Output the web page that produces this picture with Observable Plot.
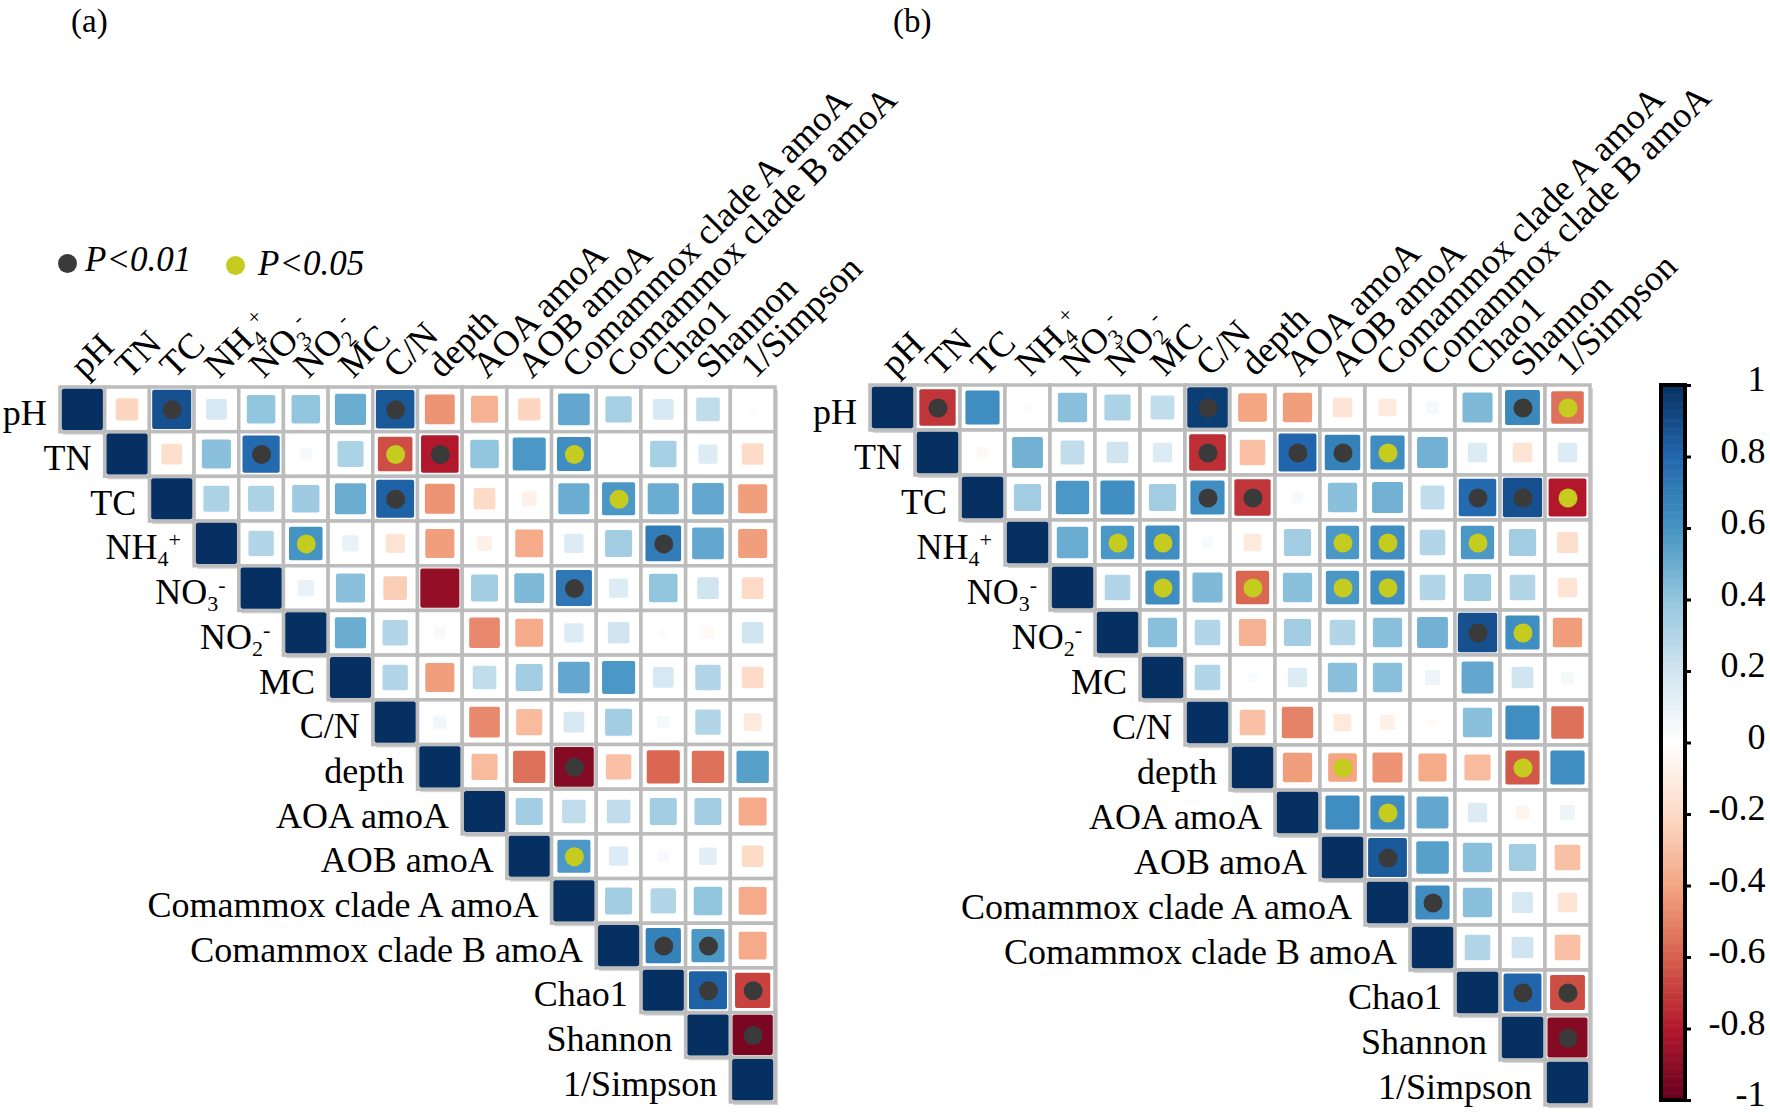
<!DOCTYPE html>
<html><head><meta charset="utf-8">
<script src="https://cdn.jsdelivr.net/npm/d3@7"></script>
<script src="https://cdn.jsdelivr.net/npm/@observablehq/plot@0.6"></script>
<style>
body{margin:0;background:#fff;}
#fig{position:relative;width:1770px;height:1114px;overflow:hidden;font-family:"Liberation Serif","Times New Roman",serif;color:#000;}
#fig svg{position:absolute;left:0;top:0;}
.plab{position:absolute;font-size:33px;line-height:1.1;}
.ldot{position:absolute;width:19px;height:19px;border-radius:50%;}
.ltxt{position:absolute;font-size:35px;font-style:italic;line-height:1;}
</style></head><body><div id="fig">
<div class="plab" style="left:71px;top:3px">(a)</div>
<div class="plab" style="left:893px;top:3px">(b)</div>
<div class="ldot" style="left:58px;top:254px;background:#3a3a3a"></div>
<div class="ltxt" style="left:85px;top:242px">P&lt;0.01</div>
<div class="ldot" style="left:226px;top:256px;background:#c6cc1f"></div>
<div class="ltxt" style="left:258px;top:246px">P&lt;0.05</div>
</div>
<script>
// ---- data ----
const variables = ["pH","TN","TC","NH4+","NO3-","NO2-","MC","C/N","depth","AOA amoA","AOB amoA",
  "Comammox clade A amoA","Comammox clade B amoA","Chao1","Shannon","1/Simpson"];

// upper triangle, row i holds r for columns i+1..15
const corrA = [
  [-0.22, 0.88, 0.18, 0.4, 0.4, 0.5, 0.85, -0.45, -0.35, -0.22, 0.52, 0.33, 0.18, 0.25, -0.02],
  [-0.18, 0.42, 0.78, 0.05, 0.32, -0.65, -0.8, 0.4, 0.58, 0.62, 0.01, 0.33, 0.15, -0.2],
  [0.32, 0.32, 0.36, 0.5, 0.82, -0.45, -0.2, -0.08, 0.5, 0.58, 0.5, 0.52, -0.42],
  [0.3, 0.6, 0.1, -0.15, -0.42, -0.08, -0.38, 0.15, 0.35, 0.7, 0.52, -0.42],
  [0.1, 0.42, -0.25, -0.88, 0.35, 0.45, 0.72, 0.15, 0.4, 0.2, -0.2],
  [0.5, 0.3, 0.04, -0.48, -0.38, 0.15, 0.2, 0.02, -0.04, 0.2],
  [0.3, -0.42, 0.25, 0.35, 0.52, 0.58, 0.18, 0.3, -0.2],
  [0.06, -0.48, -0.32, 0.18, 0.35, 0.05, 0.3, -0.12],
  [-0.32, -0.55, -0.92, -0.3, -0.58, -0.55, 0.55],
  [0.35, 0.25, 0.25, 0.35, 0.35, -0.38],
  [0.58, 0.15, 0.04, 0.12, -0.2],
  [0.35, 0.3, 0.4, -0.38],
  [0.68, 0.58, -0.38],
  [0.82, -0.68],
  [-0.95]
];
// 2 = P<0.01, 1 = P<0.05
const sigA = [
  [0,2,0,0,0,0,2,0,0,0,0,0,0,0,0],
  [0,0,2,0,0,1,2,0,0,1,0,0,0,0],
  [0,0,0,0,2,0,0,0,0,1,0,0,0],
  [0,1,0,0,0,0,0,0,0,2,0,0],
  [0,0,0,0,0,0,2,0,0,0,0],
  [0,0,0,0,0,0,0,0,0,0],
  [0,0,0,0,0,0,0,0,0],
  [0,0,0,0,0,0,0,0],
  [0,0,2,0,0,0,0],
  [0,0,0,0,0,0],
  [1,0,0,0,0],
  [0,0,0,0],
  [2,2,0],
  [2,2],
  [2]
];
const corrB = [
  [-0.72, 0.62, 0.02, 0.42, 0.32, 0.25, 0.95, -0.4, -0.42, -0.15, -0.12, 0.05, 0.45, 0.65, -0.55],
  [-0.04, 0.48, 0.25, 0.2, 0.15, -0.74, -0.3, 0.8, 0.68, 0.62, 0.48, 0.15, -0.15, 0.15],
  [0.35, 0.58, 0.62, 0.35, 0.62, -0.72, 0.04, 0.42, 0.48, 0.25, 0.78, 0.88, -0.8],
  [0.5, 0.58, 0.62, 0.04, -0.12, 0.35, 0.58, 0.62, 0.3, 0.58, 0.35, -0.18],
  [0.3, 0.62, 0.45, -0.58, 0.42, 0.58, 0.62, 0.3, 0.35, 0.3, -0.15],
  [0.42, 0.3, -0.35, 0.35, 0.3, 0.42, 0.48, 0.88, 0.62, -0.42],
  [0.3, 0.03, 0.15, 0.42, 0.42, 0.08, 0.52, 0.2, 0.05],
  [-0.3, -0.5, -0.12, -0.08, -0.02, 0.42, 0.62, -0.55],
  [-0.42, -0.4, -0.45, -0.38, -0.32, -0.62, 0.62],
  [0.62, 0.62, 0.52, 0.15, -0.06, 0.08],
  [0.85, 0.55, 0.42, 0.35, -0.3],
  [0.62, 0.42, 0.18, -0.15],
  [0.3, 0.2, -0.3],
  [0.8, -0.65],
  [-0.92]
];
const sigB = [
  [2,0,0,0,0,0,2,0,0,0,0,0,0,2,1],
  [0,0,0,0,0,2,0,2,2,1,0,0,0,0],
  [0,0,0,0,2,2,0,0,0,0,2,2,1],
  [0,1,1,0,0,0,1,1,0,1,0,0],
  [0,1,0,1,0,1,1,0,0,0,0],
  [0,0,0,0,0,0,0,2,1,0],
  [0,0,0,0,0,0,0,0,0],
  [0,0,0,0,0,0,0,0],
  [0,1,0,0,0,1,0],
  [0,1,0,0,0,0],
  [2,0,0,0,0],
  [2,0,0,0],
  [0,0,0],
  [2,2],
  [2]
];
const colorbarTicks = [1, 0.8, 0.6, 0.4, 0.2, 0, -0.2, -0.4, -0.6, -0.8, -1];
const colorbarLabels = ["1","0.8","0.6","0.4","0.2","0","-0.2","-0.4","-0.6","-0.8","-1"];
const rdbuColors = ["#67001F","#B2182B","#D6604D","#F4A582","#FDDBC7","#FFFFFF","#D1E5F0","#92C5DE","#4393C3","#2166AC","#053061"];

// ---- build ----
const FONT = "Liberation Serif, Times New Roman, serif";
const interp = d3.piecewise(d3.interpolateRgb, rdbuColors);
const colorScale = {type: "linear", domain: [-1, 1], interpolate: interp};

function buildCells(corr, sig) {
  const cells = [];
  for (let i = 0; i < variables.length; i++) {
    cells.push({i, j: i, r: 1, sig: 0});
    (corr[i] || []).forEach((r, k) => cells.push({i, j: i + 1 + k, r, sig: sig[i][k]}));
  }
  return cells;
}
const half = d => 0.46 * Math.pow(Math.abs(d.r), 0.4);

function panel(cells, xr, yr) {
  return Plot.plot({
    width: 1770, height: 1114, margin: 0,
    x: {domain: [0, 16], range: xr, axis: null},
    y: {domain: [0, 16], range: yr, axis: null},
    color: colorScale,
    style: {background: "transparent", overflow: "visible", fontFamily: FONT},
    marks: [
      Plot.rect(cells, {x1: "j", x2: d => d.j + 1, y1: "i", y2: d => d.i + 1, fill: "#d4d4d4", dx: 3, dy: 3}),
      Plot.rect(cells, {x1: "j", x2: d => d.j + 1, y1: "i", y2: d => d.i + 1, fill: "white", stroke: "#bcbcbc", strokeWidth: 3.5}),
      Plot.rect(cells, {x1: d => d.j + 0.5 - half(d), x2: d => d.j + 0.5 + half(d),
                        y1: d => d.i + 0.5 - half(d), y2: d => d.i + 0.5 + half(d), fill: "r", rx: 2}),
      Plot.dot(cells.filter(d => d.sig === 2), {x: d => d.j + 0.5, y: d => d.i + 0.5, r: 9.5, fill: "#3a3a3a"}),
      Plot.dot(cells.filter(d => d.sig === 1), {x: d => d.j + 0.5, y: d => d.i + 0.5, r: 9.5, fill: "#c6cc1f"}),
      Plot.text(variables, {x: (d, k) => k + 0.5, y: (d, k) => k + 0.5, text: d => d,
                            textAnchor: "end", dx: -36, dy: 4, fontSize: 36, fill: "black"}),
      Plot.text(variables, {x: (d, k) => k + 0.5, y: 0, text: d => d, rotate: -45,
                            textAnchor: "start", lineAnchor: "bottom", dx: 2, dy: -8, fontSize: 36, fill: "black"})
    ]
  });
}

function richLabels(svg) {
  const map = {
    "NH4+": 'NH<tspan font-size="22" dy="7">4</tspan><tspan font-size="22" dy="-19">+</tspan>',
    "NO3-": 'NO<tspan font-size="22" dy="7">3</tspan><tspan font-size="22" dy="-19">-</tspan>',
    "NO2-": 'NO<tspan font-size="22" dy="7">2</tspan><tspan font-size="22" dy="-19">-</tspan>'
  };
  d3.select(svg).selectAll("text").each(function() {
    const t = this.textContent;
    if (map[t]) this.innerHTML = map[t];
  });
}

const fig = document.getElementById("fig");
const pa = panel(buildCells(corrA, sigA), [60, 775], [387, 1102]);
const pb = panel(buildCells(corrB, sigB), [870, 1590], [385, 1105]);
richLabels(pa); richLabels(pb);

const stops = d3.range(-1, 1, 0.005);
const cb = Plot.plot({
  width: 1770, height: 1114, margin: 0,
  x: {domain: [0, 1], range: [1661, 1685], axis: null},
  y: {domain: [-1, 1], range: [1100, 385], axis: null},
  color: colorScale,
  style: {background: "transparent", overflow: "visible", fontFamily: FONT},
  marks: [
    Plot.rect(stops, {x1: 0, x2: 1, y1: d => d, y2: d => d + 0.0065, fill: d => d + 0.0025}),
    Plot.rect([0], {x1: 0, x2: 1, y1: -1, y2: 1, fill: "none", stroke: "black", strokeWidth: 4}),
    Plot.ruleY(colorbarTicks, {x1: 1, x2: 1.25, stroke: "black", strokeWidth: 3}),
    Plot.text(colorbarTicks, {x: 1, y: d => d, text: (d, i) => colorbarLabels[i], textAnchor: "end",
                              dx: 80, dy: -6, fontSize: 36, fill: "black"})
  ]
});

fig.appendChild(pa);
fig.appendChild(pb);
fig.appendChild(cb);
</script>
</body></html>
